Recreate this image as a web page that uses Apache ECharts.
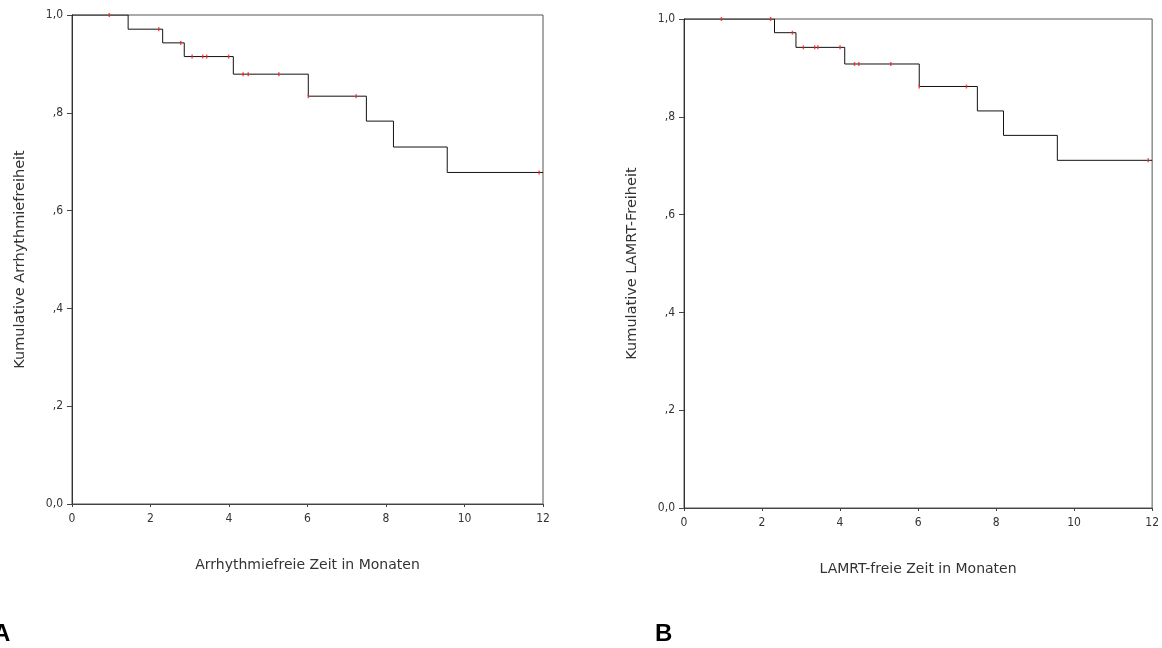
<!DOCTYPE html>
<html><head><meta charset="utf-8">
<script src="https://cdn.jsdelivr.net/npm/echarts@6/dist/echarts.min.js"></script>
<style>html,body{margin:0;padding:0;background:#fff}#c{width:1162px;height:648px}</style>
</head><body><div id="c"></div>
<script>
// Panel A: Kaplan-Meier steps (time in months, cumulative survival)
const timesA = [0, 1.43, 2.31, 2.86, 4.11, 6.02, 7.50, 8.19, 9.56, 12];
const survA  = [1.0, 0.971, 0.943, 0.915, 0.879, 0.834, 0.783, 0.730, 0.678, 0.678];
const censorTimesA = [0.95, 2.21, 2.77, 3.06, 3.33, 3.43, 3.99, 4.36, 4.49, 5.27, 6.02, 7.24, 11.9];
const censorValsA  = [1.0, 0.971, 0.943, 0.915, 0.915, 0.915, 0.915, 0.879, 0.879, 0.879, 0.834, 0.834, 0.678];
// Panel B
const timesB = [0, 2.32, 2.87, 4.12, 6.03, 7.52, 8.19, 9.57, 12];
const survB  = [1.0, 0.972, 0.942, 0.908, 0.862, 0.812, 0.762, 0.711, 0.711];
const censorTimesB = [0.96, 2.22, 2.78, 3.06, 3.35, 3.43, 4.0, 4.37, 4.48, 5.30, 6.03, 7.24, 11.9];
const censorValsB  = [1.0, 1.0, 0.972, 0.942, 0.942, 0.942, 0.942, 0.908, 0.908, 0.908, 0.862, 0.862, 0.711];
const xTicks = [0, 2, 4, 6, 8, 10, 12];
const yTickLabels = {0: '0,0', 2: ',2', 4: ',4', 6: ',6', 8: ',8', 10: '1,0'};
const yNames = ['Kumulative Arrhythmiefreiheit', 'Kumulative LAMRT-Freiheit'];
const xNames = ['Arrhythmiefreie Zeit in Monaten', 'LAMRT-freie Zeit in Monaten'];
const panelLabels = ['A', 'B'];

const font = '"Liberation Sans", Arial, sans-serif';
const tickFont = '"Liberation Sans Narrow", "DejaVu Sans Condensed", "Liberation Sans", sans-serif';
const nameFont = '"DejaVu Sans", sans-serif';
const txt = '#333';
const zip = (a, b) => a.map((v, i) => [v, b[i]]);

function xAx(i) {
  return {
    gridIndex: i, type: 'value', min: xTicks[0], max: xTicks[xTicks.length - 1], interval: 2,
    name: xNames[i], nameLocation: 'middle', nameGap: 54,
    nameTextStyle: {fontFamily: nameFont, fontSize: 14, color: txt},
    axisLine: {lineStyle: {color: '#444', width: 1}},
    axisTick: {show: true, length: 3, lineStyle: {color: '#444'}},
    axisLabel: {fontFamily: tickFont, fontSize: 12, color: txt, margin: 9},
    splitLine: {show: false}
  };
}
function yAx(i) {
  return {
    gridIndex: i, type: 'value', min: 0, max: 1, interval: 0.2,
    name: yNames[i], nameLocation: 'middle', nameGap: 44, nameRotate: 90,
    nameTextStyle: {fontFamily: nameFont, fontSize: 14.5, color: txt},
    axisLine: {show: true, lineStyle: {color: '#333', width: 1}},
    axisTick: {show: true, length: 5, lineStyle: {color: '#444'}},
    axisLabel: {fontFamily: tickFont, fontSize: 12, color: txt, margin: 9,
      formatter: v => yTickLabels[Math.round(v * 10)] || ''},
    splitLine: {show: false}
  };
}
function stepSeries(i, t, s) {
  return {type: 'line', xAxisIndex: i, yAxisIndex: i, step: 'end', data: zip(t, s),
    symbol: 'none', lineStyle: {color: '#111', width: 1}, silent: true, z: 2};
}
function censorSeries(i, t, s) {
  return {type: 'scatter', xAxisIndex: i, yAxisIndex: i, data: zip(t, s),
    symbol: 'rect', symbolSize: [1.5, 4], itemStyle: {color: '#ff2020'}, silent: true, z: 3};
}

const chart = echarts.init(document.getElementById('c'), null, {renderer: 'canvas'});
chart.setOption({
  animation: false,
  backgroundColor: '#fff',
  grid: [
    {left: 72, top: 15, width: 471, height: 489, show: true, borderColor: '#555', borderWidth: 1, backgroundColor: 'transparent'},
    {left: 684, top: 19, width: 471, height: 489, show: true, borderColor: '#555', borderWidth: 1, backgroundColor: 'transparent'}
  ],
  xAxis: [xAx(0), xAx(1)],
  yAxis: [yAx(0), yAx(1)],
  graphic: [
    {type: 'text', left: -7, top: 622, style: {text: panelLabels[0], font: 'bold 24px ' + font, fill: '#000'}},
    {type: 'text', left: 655, top: 622, style: {text: panelLabels[1], font: 'bold 24px ' + font, fill: '#000'}}
  ],
  series: [
    stepSeries(0, timesA, survA), censorSeries(0, censorTimesA, censorValsA),
    stepSeries(1, timesB, survB), censorSeries(1, censorTimesB, censorValsB)
  ]
});
</script></body></html>
